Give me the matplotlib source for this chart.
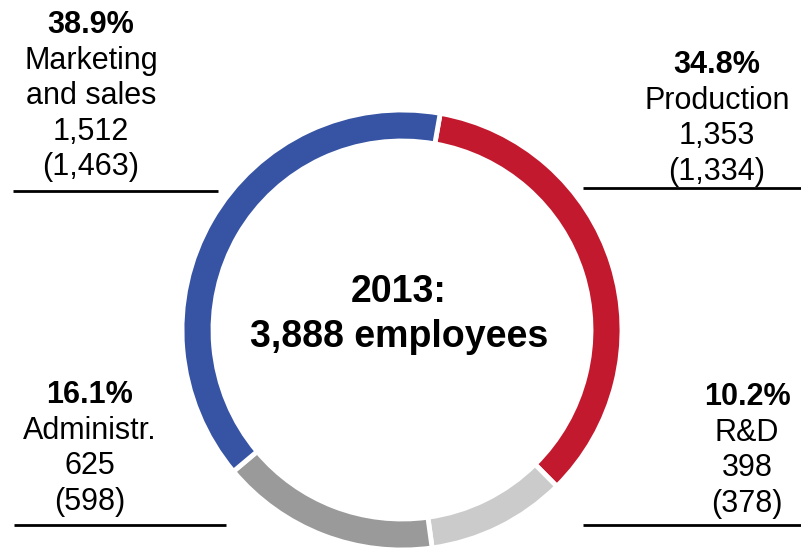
import matplotlib.pyplot as plt

plt.rcParams['font.family'] = ['Liberation Sans', 'DejaVu Sans']

# employees by function, clockwise from the top
functions = ['Production', 'R&D', 'Administr.', 'Marketing\nand sales']
employees_2013 = [1353, 398, 625, 1512]
employees_2012 = [1334, 378, 598, 1463]
shares = [34.8, 10.2, 16.1, 38.9]
colors = ['#C3192E', '#CBCBCB', '#9A9A9A', '#3653A4']

W, H = 801, 548
fig = plt.figure(figsize=(W / 100, H / 100), dpi=100)
ax = fig.add_axes([0, 0, 1, 1])

def py(y):
    # y measured from the top edge to data y
    return H - y

cx, cy, r, ring = 402, 330, 220, 31
ax.pie(employees_2013, colors=colors, startangle=80, counterclock=False,
       center=(cx, py(cy)), radius=r, frame=True,
       wedgeprops=dict(width=ring, edgecolor='white', linewidth=3.5))
ax.set_xlim(0, W)
ax.set_ylim(0, H)
ax.set_aspect('equal')
ax.axis('off')

ax.text(cx - 3, py(292), '2013:', ha='center', va='center',
        fontsize=27, fontweight='bold')
ax.text(cx - 3, py(337), '{:,} employees'.format(sum(employees_2013)),
        ha='center', va='center', fontsize=27, fontweight='bold')

# label blocks: (x centre, first baseline, rule y, rule x0, rule x1)
blocks = {
    'Marketing\nand sales': (91, 33, 191, 13, 218),
    'Production': (717, 73, 188, 583, 801),
    'Administr.': (90, 403, 525, 14, 226),
    'R&D': (747, 405, 525, 583, 801),
}
step = 35.6
for name, v13, v12, pct in zip(functions, employees_2013, employees_2012, shares):
    x, y0, ly, x0, x1 = blocks[name]
    lines = name.split('\n') + ['{:,}'.format(v13), '({:,})'.format(v12)]
    ax.text(x, py(y0), '{:.1f}%'.format(pct), ha='center', va='baseline',
            fontsize=22, fontweight='bold')
    for i, s in enumerate(lines, start=1):
        ax.text(x, py(y0 + i * step), s, ha='center', va='baseline', fontsize=22)
    ax.plot([x0, x1], [py(ly), py(ly)], color='black', linewidth=2,
            solid_capstyle='butt')

fig.savefig('out.png', dpi=100)
